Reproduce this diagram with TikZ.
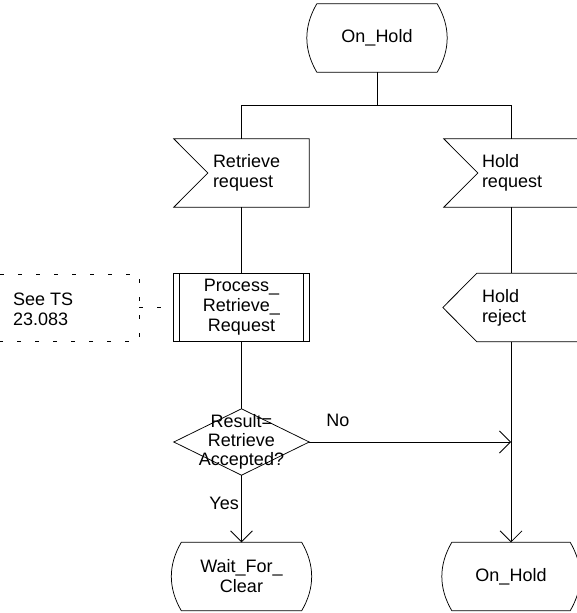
\documentclass[tikz,border=0pt]{standalone}
\usepackage{fontspec}
\setmainfont{Liberation Sans}
\usetikzlibrary{arrows.meta,calc}

\begin{document}
\begin{tikzpicture}[x=1pt,y=-1pt,
  every node/.style={font=\fontsize{18}{20}\selectfont},
  line/.style={line width=0.75pt},
  flow/.style={line, -{Straight Barb[length=11pt,width=22pt]}},
  box/.style={inner sep=0pt, minimum width=#1, minimum height=68pt},
  box/.default=135pt,
  txt/.style={inner sep=0pt, align=left},
  ctxt/.style={inner sep=0pt, align=center},
  note/.style={line, dash pattern=on 4pt off 14pt}
]
\useasboundingbox (0,0) rectangle (577,613);

% ---- shape holders ----
\node[box=120pt, ctxt] (top)   at (377,38)      {On\_Hold};
\node[box] (rr)                at (241.5,173)   {};
\node[box=134pt] (hr)          at (511,173)     {};
\node[box, ctxt] (proc)        at (241.5,307.5) {Process\_\\Retrieve\_\\Request};
\node[box=136pt] (hj)          at (511,307.5)   {};
\node[box, minimum height=66pt] (dec) at (241.5,442) {};
\node[box=120pt, ctxt] (wait)  at (241.5,576.5) {Wait\_For\_\\Clear};
\node[box=118pt, ctxt] (hold2) at (511,576.5)   {On\_Hold};

% ---- texts of the signal and decision symbols ----
\node[txt, anchor=west] (rrt) at ([xshift=39pt]rr.west) {Retrieve\\request};
\node[txt, anchor=west] (hrt) at ([xshift=38pt]hr.west) {Hold\\request};
\node[txt, anchor=west] (hjt) at ([xshift=39pt]hj.west) {Hold\\reject};
\node[ctxt, font=\fontsize{18}{19}\selectfont] (dect) at (dec.center)
  {Result=\\Retrieve\\Accepted?};
\node[txt, anchor=west] (see) at (13,309) {See TS\\23.083};
\node[txt] (no)  at (338,420) {No};
\node[txt, anchor=east] (yes) at (239,503) {Yes};

% ---- state symbols (arched sides) ----
\foreach \n in {top,wait,hold2}
  \draw[line] (\n.north west)
    .. controls ($(\n.north west)+(-13.3,22.7)$)
           and ($(\n.south west)+(-13.3,-22.7)$) .. (\n.south west)
    -- (\n.south east)
    .. controls ($(\n.south east)+(13.3,-22.7)$)
           and ($(\n.north east)+(13.3,22.7)$) .. (\n.north east) -- cycle;

% ---- input signals ----
\foreach \n in {rr,hr}
  \draw[line] (\n.north west) -- (\n.north east) -- (\n.south east)
    -- (\n.south west) -- ([xshift=34pt]\n.west) -- cycle;

% ---- output signal ----
\draw[line] (hj.west) -- ([xshift=34pt]hj.north west) -- (hj.north east)
  -- (hj.south east) -- ([xshift=34pt]hj.south west) -- cycle;

% ---- procedure call ----
\draw[line] (proc.north west) rectangle (proc.south east);
\draw[line] ([xshift=6pt]proc.north west) -- ([xshift=6pt]proc.south west);
\draw[line] ([xshift=-6pt]proc.north east) -- ([xshift=-6pt]proc.south east);

% ---- decision ----
\draw[line] (dec.north) -- (dec.east) -- (dec.south) -- (dec.west) -- cycle;

% ---- comment box ----
\coordinate (seeTL) at (0,274);
\coordinate (seeTR) at (139,274);
\coordinate (seeBR) at (139,341);
\coordinate (seeBL) at (0,341);
\coordinate (seeR)  at (139,307.5);
\draw[note] (seeTL) -- (seeTR) -- (seeBR) -- (seeBL);
\draw[note] (seeR) -- (proc.west);

% ---- connectors ----
\coordinate (barL) at (241.5,105);
\coordinate (barR) at (511,105);
\draw[line] (top.south) -- (top.south |- barL);
\draw[line] (rr.north) -- (barL) -- (barR) -- (hr.north);
\draw[line] (rr.south) -- (proc.north);
\draw[line] (proc.south) -- (dec.north);
\draw[flow] (dec.south) -- (wait.north);
\draw[line] (hr.south) -- (hj.north);
\draw[flow] (hj.south) -- (hold2.north);
\draw[flow] (dec.east) -- (hj.south |- dec.east);
\end{tikzpicture}
\end{document}
